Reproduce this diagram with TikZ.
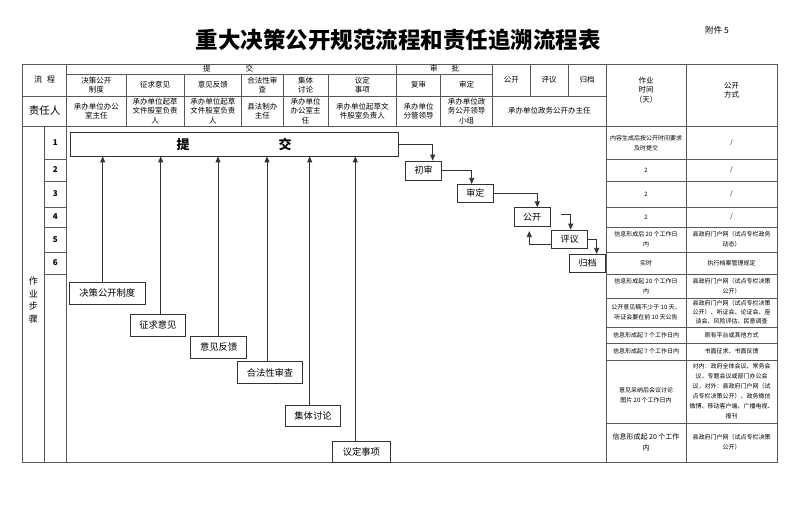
\documentclass[tikz,border=0pt]{standalone}
\usepackage{fontspec}
\setmainfont{Noto Sans CJK SC}
\usetikzlibrary{arrows.meta,calc}
\tikzset{
 tl/.style={draw=black!65, line width=0.8pt},
 hd/.style={font=\fontsize{7.5}{9.3}\selectfont, align=center, inner sep=0pt},
 rt/.style={font=\fontsize{6}{10}\selectfont, align=center, inner sep=0pt},
 fb/.style={draw=black!80, line width=0.8pt, font=\fontsize{9.3}{9.3}\selectfont, inner sep=0pt, rectangle},
 arr/.style={draw=black!80, line width=0.8pt, -{Triangle[length=6pt,width=5pt]}},
}
\begin{document}
\begin{tikzpicture}[x=1pt,y=-1pt]
\useasboundingbox (0,0) rectangle (800,513);
% title
\node[font=\fontsize{22.5}{23}\selectfont\bfseries] (title) at (398,40) {重大决策公开规范流程和责任追溯流程表};
\node[font=\fontsize{8.5}{9}\selectfont] (att) at (717,30) {附件 5};
% table frame
\draw[tl] (22.7,64) rectangle (777,462);
\draw[tl] (22.7,126) -- (777,126);
\draw[tl] (66.7,74) -- (492.7,74);
\draw[tl] (22.7,96) -- (606,96);
\foreach \x in {66.7,396.7,492.7,606,686} \draw[tl] (\x,64) -- (\x,126);
\foreach \x in {126,184,241.7,283,328,440.7} \draw[tl] (\x,74) -- (\x,126);
\foreach \x in {530,568} \draw[tl] (\x,64) -- (\x,96);
\foreach \x in {44,66.7,606,686} \draw[tl] (\x,126) -- (\x,462);
\foreach \y in {159,181,207,227,252,274} \draw[tl] (44,\y) -- (66.7,\y);
\foreach \y in {159,181,207,227,252,274,298,327,343,360,423} \draw[tl] (606,\y) -- (777,\y);
% header texts
\node[font=\fontsize{8}{9}\selectfont] (hlc) at (44.7,79.5) {流\hspace{5pt}程};
\node[font=\fontsize{10.5}{11}\selectfont] (hzr) at (44.7,111) {责任人};
\node[hd] (htj) at (228,69) {提\hspace{35pt}交};
\node[hd] (hsp) at (444.7,69) {审\hspace{14pt}批};
\node[hd] (h1) at (96.35,85) {决策公开\\制度};
\node[hd] (h2) at (155,85) {征求意见};
\node[hd] (h3) at (212.85,85) {意见反馈};
\node[hd] (h4) at (262.35,85) {合法性审\\查};
\node[hd] (h5) at (305.5,85) {集体\\讨论};
\node[hd] (h6) at (362.35,85) {议定\\事项};
\node[hd] (h7) at (418.7,85) {复审};
\node[hd] (h8) at (466.7,85) {审定};
\node[hd] (h9) at (511.35,79.5) {公开};
\node[hd] (h10) at (549,79.5) {评议};
\node[hd] (h11) at (587,79.5) {归档};
\node[hd] (h12) at (646,90) {作业\\时间\\（天）};
\node[hd] (h13) at (731.5,90) {公开\\方式};
\node[hd] (r1) at (96.35,111) {承办单位办公\\室主任};
\node[hd] (r2) at (155,111) {承办单位起草\\文件股室负责\\人};
\node[hd] (r3) at (212.85,111) {承办单位起草\\文件股室负责\\人};
\node[hd] (r4) at (262.35,111) {县法制办\\主任};
\node[hd] (r5) at (305.5,111) {承办单位\\办公室主\\任};
\node[hd] (r6) at (362.35,111) {承办单位起草文\\件股室负责人};
\node[hd] (r7) at (418.7,111) {承办单位\\分管领导};
\node[hd] (r8) at (466.7,111) {承办单位政\\务公开领导\\小组};
\node[hd] (r9) at (549.35,111) {承办单位政务公开办主任};
% left column
\node[font=\fontsize{9}{12.5}\selectfont, align=center, inner sep=0pt] (zybz) at (33.3,300) {作\\业\\步\\骤};
\foreach \n/\y in {1/143,2/170,3/194,4/217,5/239.5,6/263}
  \node[font=\fontsize{8}{8}\selectfont\bfseries] (n\n) at (55.35,\y) {\n};
% right column texts
\node[rt] (t1) at (646,143) {内容生成后按公开时间要求\\及时提交};
\node[rt] (m1) at (731.5,143) {/};
\node[rt] (t2) at (646,170) {2};
\node[rt] (m2) at (731.5,170) {/};
\node[rt] (t3) at (646,194) {2};
\node[rt] (m3) at (731.5,194) {/};
\node[rt] (t4) at (646,217) {2};
\node[rt] (m4) at (731.5,217) {/};
\node[rt] (t5) at (646,239.5) {信息形成后 20 个工作日\\内};
\node[rt] (m5) at (731.5,239.5) {县政府门户网（试点专栏政务\\动态）};
\node[rt] (t6) at (646,263) {实时};
\node[rt] (m6) at (731.5,263) {执行档案管理规定};
\node[rt] (t7) at (646,286) {信息形成起 20 个工作日\\内};
\node[rt] (m7) at (731.5,286) {县政府门户网（试点专栏决策\\公开）};
\node[rt] (t8) at (646,312.5) {公开意见稿不少于 10 天，\\听证会要在前 10 天公告};
\node[rt, font=\fontsize{6}{9}\selectfont] (m8) at (731.5,312.5) {县政府门户网（试点专栏决策\\公开）、听证会、论证会、座\\谈会、风险评估、民意调查};
\node[rt] (t9) at (646,335) {信息形成起 7 个工作日内};
\node[rt] (m9) at (731.5,335) {原有平台或其他方式};
\node[rt] (t10) at (646,351.5) {信息形成起 7 个工作日内};
\node[rt] (m10) at (731.5,351.5) {书面征求、书面反馈};
\node[rt] (t11) at (646,395) {意见采纳后会议讨论\\图片 20 个工作日内};
\node[rt] (m11) at (731.5,391.5) {对内：政府全体会议、常务会\\议，专题会议或部门办公会\\议，对外：县政府门户网（试\\点专栏决策公开）、政务微信\\微博、移动客户端、广播电视、\\报刊};
\node[rt, font=\fontsize{7}{10.5}\selectfont] (t12) at (646,442.5) {信息形成起 20 个工作\\内};
\node[rt] (m12) at (731.5,442.5) {县政府门户网（试点专栏决策\\公开）};
% flow: main box
\node[fb, minimum width=328pt, minimum height=24pt, font=\fontsize{13}{13}\selectfont\bfseries] (tj) at (234,144) {提\hspace{89pt}交};
% bottom boxes
\node[fb, minimum width=76pt, minimum height=21.3pt] (jc) at (107.3,293.35) {决策公开制度};
\node[fb, minimum width=55.7pt, minimum height=21.7pt] (zq) at (157.85,325.15) {征求意见};
\node[fb, minimum width=56pt, minimum height=22.3pt] (yj) at (218.7,347.15) {意见反馈};
\node[fb, minimum width=65.4pt, minimum height=21.6pt] (hf) at (270,372.5) {合法性审查};
\node[fb, minimum width=55.4pt, minimum height=21pt] (jt) at (313,415.5) {集体讨论};
\node[fb, minimum width=57.3pt, minimum height=21pt] (yd) at (361.35,452.2) {议定事项};
\draw[arr] (102.7,0 |- jc.north) -- (102.7,0 |- tj.south);
\draw[arr] (160.7,0 |- zq.north) -- (160.7,0 |- tj.south);
\draw[arr] (218,0 |- yj.north) -- (218,0 |- tj.south);
\draw[arr] (267,0 |- hf.north) -- (267,0 |- tj.south);
\draw[arr] (309.7,0 |- jt.north) -- (309.7,0 |- tj.south);
\draw[arr] (355.3,0 |- yd.north) -- (355.3,0 |- tj.south);
% right flow boxes
\node[fb, font=\fontsize{9}{9}\selectfont, minimum width=36pt, minimum height=19pt] (cs) at (423.7,170.5) {初审};
\node[fb, font=\fontsize{9}{9}\selectfont, minimum width=36pt, minimum height=18pt] (sd) at (475.3,193.3) {审定};
\node[fb, font=\fontsize{9}{9}\selectfont, minimum width=36pt, minimum height=19pt] (gk) at (532,217.2) {公开};
\node[fb, font=\fontsize{9}{9}\selectfont, minimum width=35.6pt, minimum height=18.3pt] (py) at (569.5,239.15) {评议};
\node[fb, font=\fontsize{9}{9}\selectfont, minimum width=36.4pt, minimum height=18pt] (gd) at (587.5,263.3) {归档};
\draw[arr] (tj.east) -| ($(cs.north)+(9,0)$);
\draw[arr] (cs.east) -| ($(sd.north)+(-3.6,0)$);
\draw[arr] (sd.east) -| ($(gk.north)+(5.3,0)$);
\draw[arr] ($(gk.east)+(10.7,-2.9)$) -| ($(py.north)+(1.2,0)$);
\draw[arr] ($(py.west)+(0,4.8)$) -| ($(gk.south)+(-2.7,4)$);
\draw[arr] (py.east) -| ($(gd.north)+(9.2,0)$);
\end{tikzpicture}
\end{document}
